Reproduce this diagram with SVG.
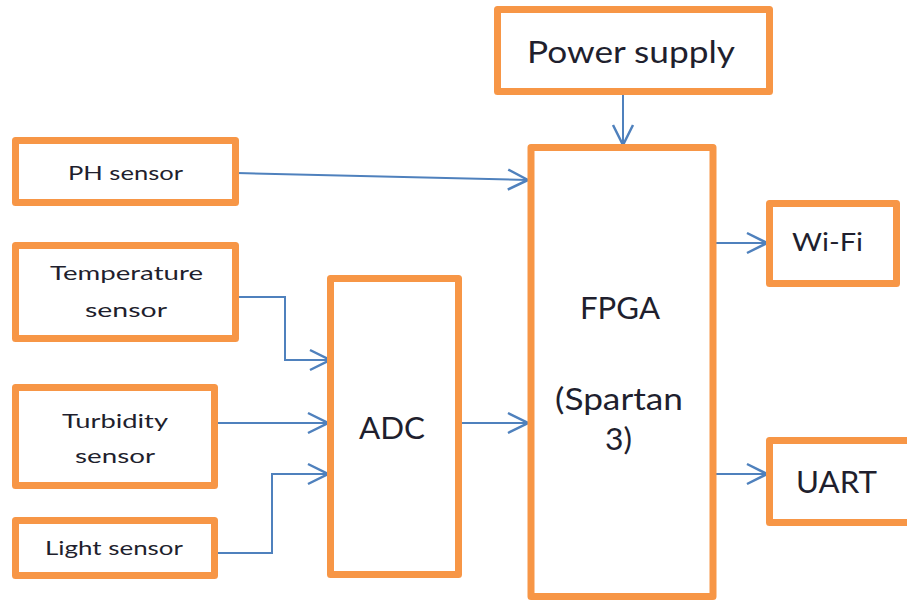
<svg xmlns="http://www.w3.org/2000/svg" width="907" height="600" viewBox="0 0 907 600">
<style>
.box{fill:#fff;stroke:#F79646;stroke-width:7;stroke-linejoin:round}
.t{font-family:Lato,"Liberation Sans",sans-serif;fill:#1f1f2e}
.s{font-size:20px}
.b{font-size:30px}
.c{fill:none;stroke:#4F81BD;stroke-width:2;marker-end:url(#ah)}
</style>
<defs>
<marker id="ah" markerWidth="24" markerHeight="24" refX="22" refY="12" orient="auto" markerUnits="userSpaceOnUse">
<path d="M2,2 L22,12 L2,22" fill="none" stroke="#4F81BD" stroke-width="2.5"/>
</marker>
</defs>
<rect width="907" height="600" fill="#fff"/>
<g id="connectors">
<path class="c" d="M237,173 L528,180"/>
<path class="c" d="M623,92 L623,145"/>
<path class="c" d="M237,297 L285,297 L285,360 L330,360"/>
<path class="c" d="M216,423 L328,423"/>
<path class="c" d="M216,553 L272,553 L272,474 L328,474"/>
<path class="c" d="M460,423 L528,423"/>
<path class="c" d="M714,243 L767,243"/>
<path class="c" d="M714,474 L767,474"/>
</g>
<g id="power">
<rect class="box" x="497.5" y="9.5" width="272" height="82"/>
<text class="t b" x="527" y="63" textLength="208" lengthAdjust="spacingAndGlyphs">Power supply</text>
</g>
<g id="ph">
<rect class="box" x="15.5" y="140.5" width="220" height="62"/>
<text class="t s" x="68" y="180" textLength="115" lengthAdjust="spacingAndGlyphs">PH sensor</text>
</g>
<g id="temperature">
<rect class="box" x="15.5" y="245.5" width="220" height="93"/>
<text class="t s" x="50" y="280" textLength="153" lengthAdjust="spacingAndGlyphs">Temperature</text>
<text class="t s" x="85" y="317" textLength="82" lengthAdjust="spacingAndGlyphs">sensor</text>
</g>
<g id="turbidity">
<rect class="box" x="15.5" y="387.5" width="199" height="98"/>
<text class="t s" x="62" y="428" textLength="106" lengthAdjust="spacingAndGlyphs">Turbidity</text>
<text class="t s" x="75" y="463" textLength="80" lengthAdjust="spacingAndGlyphs">sensor</text>
</g>
<g id="light">
<rect class="box" x="15.5" y="520.5" width="199" height="55"/>
<text class="t s" x="45" y="555" textLength="138" lengthAdjust="spacingAndGlyphs">Light sensor</text>
</g>
<g id="adc">
<rect class="box" x="330.5" y="278.5" width="128" height="296"/>
<text class="t b" x="359" y="439" textLength="66" lengthAdjust="spacingAndGlyphs">ADC</text>
</g>
<g id="fpga">
<rect class="box" x="531" y="147.5" width="182" height="449"/>
<text class="t b" x="580" y="319" textLength="80" lengthAdjust="spacingAndGlyphs">FPGA</text>
<text class="t b" x="555" y="410" textLength="128" lengthAdjust="spacingAndGlyphs">(Spartan</text>
<text class="t b" x="605" y="450" textLength="27" lengthAdjust="spacingAndGlyphs">3)</text>
</g>
<g id="wifi">
<rect class="box" x="769.5" y="203.5" width="127" height="80"/>
<text class="t" style="font-size:25px" x="792" y="251" textLength="71" lengthAdjust="spacingAndGlyphs">Wi-Fi</text>
</g>
<g id="uart">
<rect class="box" x="769.5" y="440.5" width="150" height="82"/>
<text class="t b" x="796" y="493" textLength="81" lengthAdjust="spacingAndGlyphs">UART</text>
</g>
</svg>
